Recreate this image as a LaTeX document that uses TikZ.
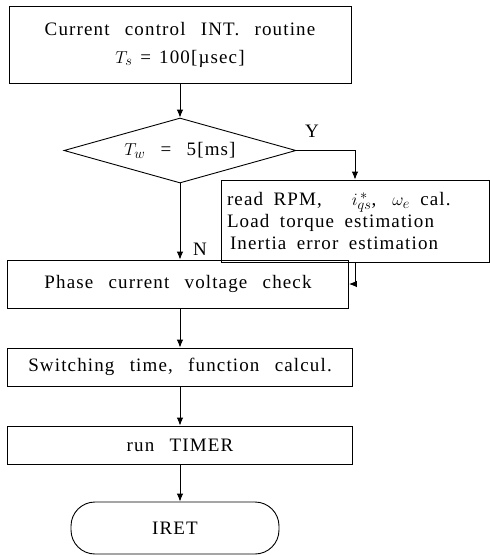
\documentclass[tikz,border=0pt]{standalone}
\usepackage{fontspec}
\setmainfont{Liberation Serif}[LetterSpace=6,WordSpace=2.6]
\usetikzlibrary{shapes.geometric,arrows.meta}

\begin{document}
\begin{tikzpicture}[x=1pt,y=-1pt,
	box/.style={draw,line width=0.9pt,inner sep=0pt,font=\fontsize{19}{22}\selectfont},
	flow/.style={draw,line width=0.9pt,-{Latex[length=8pt,width=6.5pt]}}]
	\useasboundingbox (0,0) rectangle (490,555);
	\node[box,minimum width=342pt,minimum height=77pt,align=center] (intr) at (180,44.5)
		{Current control INT. routine\\[6pt]$T_s$\hspace{8pt}=\hspace{8pt}100[µsec]};
	\node[box,shape=diamond,shape aspect=3.6,minimum width=232pt,minimum height=65pt] (tw) at (180,150.5)
		{$T_w$ = 5[ms]};
	\node[box,text width=256pt,inner xsep=6pt,minimum height=82pt,align=left] (est) at (355,221)
		{\spaceskip=0.55em\relax read RPM,\hspace{30pt}$i_{qs}^{\,*}$,\hspace{16pt}$\omega_e$ cal.\\Load torque estimation\\\hspace{3pt}Inertia error estimation};
	\node[box,minimum width=341pt,minimum height=48pt] (chk) at (178,284) {Phase current voltage check};
	\node[box,minimum width=345pt,minimum height=38pt] (sw) at (180,367) {Switching time, function calcul.};
	\node[box,minimum width=345pt,minimum height=38pt] (tmr) at (180,445) {run TIMER};
	\node[box,minimum width=208pt,minimum height=52pt,rounded corners=24pt] (iret) at (175,528) {IRET};
	\node[font=\fontsize{19}{22}\selectfont] (yes) at (312,131) {Y};
	\node[font=\fontsize{19}{22}\selectfont] (no) at (200,249) {N};
	% connectors
	\draw[flow] (intr.south) -- (intr.south |- tw.north);
	\draw[flow] (tw.east) -| (est.north);
	\draw[flow] (tw.south) -- (tw.south |- chk.north);
	\draw[flow] (est.south) |- (chk.east);
	\draw[flow] (chk.south -| tw.south) -- (tw.south |- sw.north);
	\draw[flow] (sw.south) -- (sw.south |- tmr.north);
	\draw[flow] (tmr.south) -- (tmr.south |- iret.north);
\end{tikzpicture}
\end{document}
